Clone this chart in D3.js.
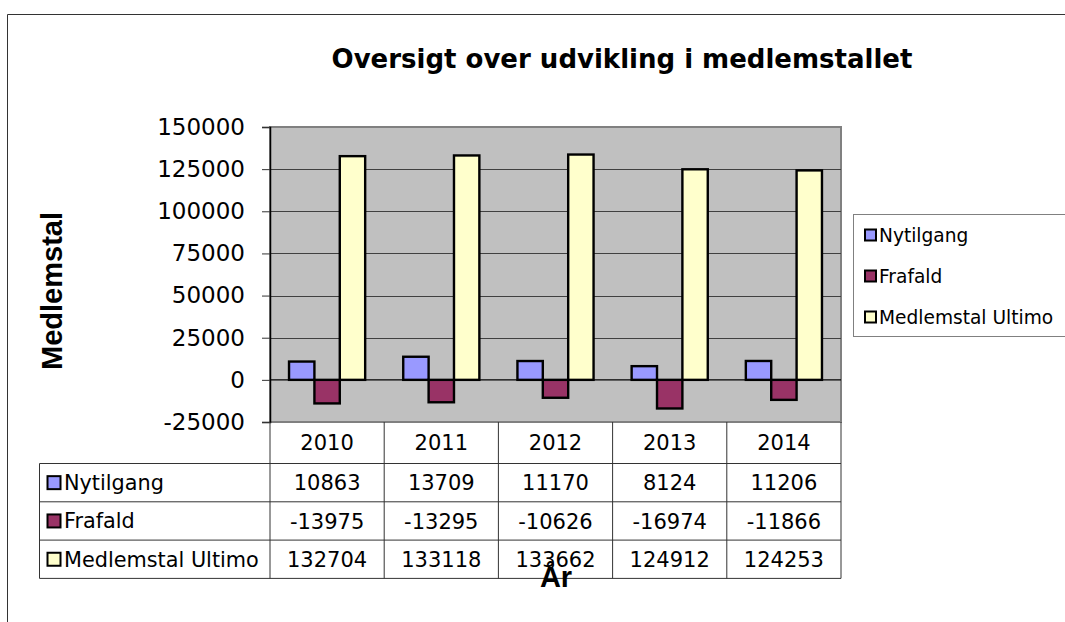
<!DOCTYPE html>
<html>
<head>
<meta charset="utf-8">
<script src="https://cdn.jsdelivr.net/npm/d3@7"></script>
<style>
  html, body { margin: 0; padding: 0; background: #fff; }
  svg { display: block; }
</style>
</head>
<body>
<svg id="chart" width="1065" height="622"></svg>
<script>
const years = ["2010", "2011", "2012", "2013", "2014"];
const seriesNames = ["Nytilgang", "Frafald", "Medlemstal Ultimo"];
const nytilgang = [10863, 13709, 11170, 8124, 11206];
const frafald = [-13975, -13295, -10626, -16974, -11866];
const medlemstal = [132704, 133118, 133662, 124912, 124253];
const yTicks = [-25000, 0, 25000, 50000, 75000, 100000, 125000, 150000];
const seriesColors = ["#9999FF", "#993366", "#FFFFCC"];

const seriesValues = [nytilgang, frafald, medlemstal];

const svg = d3.select("#chart");
const font = "'DejaVu Sans', Verdana, sans-serif";
const boldFont = "'Liberation Sans', Arial, sans-serif";

// outer chart border (top & left)
svg.append("path")
  .attr("d", "M7.5,622 L7.5,14.5 L1065,14.5")
  .attr("fill", "none").attr("stroke", "#333").attr("stroke-width", 1);

const plot = { left: 270, right: 841, top: 127, bottom: 422 };

const x = d3.scaleBand().domain(years).range([plot.left, plot.right]).paddingInner(0).paddingOuter(0);
const xs = d3.scaleBand().domain(seriesNames).range([0, x.bandwidth()]).paddingInner(0).paddingOuter(0.75);
const y = d3.scaleLinear().domain([-25000, 150000]).range([plot.bottom, plot.top]);

// plot background
svg.append("rect")
  .attr("x", plot.left).attr("y", plot.top)
  .attr("width", plot.right - plot.left).attr("height", plot.bottom - plot.top)
  .attr("fill", "#C0C0C0").attr("stroke", "#808080").attr("stroke-width", 2);

// gridlines
svg.append("g").selectAll("line")
  .data(yTicks.filter(t => t !== -25000 && t !== 150000 && t !== 0))
  .join("line")
  .attr("x1", plot.left).attr("x2", plot.right)
  .attr("y1", d => Math.round(y(d)) + 0.5).attr("y2", d => Math.round(y(d)) + 0.5)
  .attr("stroke", "#404040").attr("stroke-width", 1);

// y axis
const yAxis = d3.axisLeft(y).tickValues(yTicks).tickSize(8).tickPadding(17).tickFormat(d => String(d));
const yg = svg.append("g").attr("transform", `translate(${plot.left},0)`).call(yAxis);
yg.select(".domain").attr("stroke", "#000").attr("stroke-width", 1.5);
yg.selectAll(".tick line").attr("stroke", "#333");
yg.selectAll(".tick text").attr("font-family", font).attr("font-size", 23).attr("fill", "#000");

// bars
const barData = [];
years.forEach((yr, i) => {
  seriesNames.forEach((s, j) => {
    barData.push({ year: yr, series: s, value: seriesValues[j][i], color: seriesColors[j] });
  });
});
svg.append("g").selectAll("rect")
  .data(barData)
  .join("rect")
  .attr("x", d => x(d.year) + xs(d.series))
  .attr("width", xs.bandwidth())
  .attr("y", d => y(Math.max(0, d.value)))
  .attr("height", d => Math.abs(y(d.value) - y(0)))
  .attr("fill", d => d.color)
  .attr("stroke", "#000").attr("stroke-width", 2.4);

// zero line
svg.append("line")
  .attr("x1", plot.left).attr("x2", plot.right)
  .attr("y1", y(0)).attr("y2", y(0))
  .attr("stroke", "#000").attr("stroke-width", 1.2);

// data table
const rowH = 38.3;
const headerBottom = plot.bottom + 41.5;
const tableLeft = 39.5;
const rowsY = seriesNames.map((s, i) => headerBottom + i * rowH);
const tableBottom = headerBottom + seriesNames.length * rowH;
const tg = svg.append("g");
const lineColor = "#333";

[headerBottom, ...rowsY.map(r => r + rowH)].forEach(yy => {
  tg.append("line").attr("x1", tableLeft).attr("x2", plot.right)
    .attr("y1", yy).attr("y2", yy).attr("stroke", lineColor).attr("stroke-width", 1);
});
tg.append("line").attr("x1", tableLeft).attr("x2", tableLeft)
  .attr("y1", headerBottom).attr("y2", tableBottom).attr("stroke", lineColor);
years.forEach(yr => {
  tg.append("line").attr("x1", x(yr)).attr("x2", x(yr))
    .attr("y1", plot.bottom).attr("y2", tableBottom).attr("stroke", lineColor);
});
tg.append("line").attr("x1", plot.right).attr("x2", plot.right)
  .attr("y1", plot.bottom).attr("y2", tableBottom).attr("stroke", lineColor);

tg.selectAll("text.year").data(years).join("text")
  .attr("class", "year")
  .attr("x", d => x(d) + x.bandwidth() / 2)
  .attr("y", (plot.bottom + headerBottom) / 2)
  .attr("dy", "0.36em")
  .attr("text-anchor", "middle")
  .attr("font-family", font).attr("font-size", 21).attr("fill", "#000")
  .text(d => d);

seriesNames.forEach((s, j) => {
  const cy = rowsY[j] + rowH / 2;
  tg.append("rect").attr("x", 47.5).attr("y", cy - 6.5).attr("width", 13).attr("height", 13)
    .attr("fill", seriesColors[j]).attr("stroke", "#000").attr("stroke-width", 2);
  tg.append("text").attr("x", 64).attr("y", cy).attr("dy", "0.36em")
    .attr("font-family", font).attr("font-size", 20.8).attr("fill", "#000").text(s);
  years.forEach((yr, i) => {
    tg.append("text")
      .attr("x", x(yr) + x.bandwidth() / 2).attr("y", cy).attr("dy", "0.36em")
      .attr("text-anchor", "middle")
      .attr("font-family", font).attr("font-size", 21).attr("fill", "#000")
      .text(seriesValues[j][i]);
  });
});

// title
svg.append("text")
  .attr("x", 622).attr("y", 68)
  .attr("text-anchor", "middle")
  .attr("font-family", font).attr("font-weight", "bold").attr("font-size", 26)
  .attr("fill", "#000")
  .text("Oversigt over udvikling i medlemstallet");

// y axis title
svg.append("text")
  .attr("transform", `translate(62,291) rotate(-90)`)
  .attr("text-anchor", "middle")
  .attr("font-family", boldFont).attr("font-weight", "bold").attr("font-size", 29)
  .attr("fill", "#000")
  .text("Medlemstal");

// x axis title (overlaps the table in the reference)
svg.append("text")
  .attr("x", 556).attr("y", 587)
  .attr("text-anchor", "middle")
  .attr("font-family", boldFont).attr("font-weight", "bold").attr("font-size", 29)
  .attr("fill", "#000")
  .text("År");

// legend
const lg = svg.append("g");
lg.append("rect").attr("x", 853.5).attr("y", 214.5).attr("width", 230).attr("height", 122)
  .attr("fill", "#fff").attr("stroke", "#808080").attr("stroke-width", 1);
const legendY = [235, 276, 317];
seriesNames.forEach((s, j) => {
  lg.append("rect").attr("x", 865).attr("y", legendY[j] - 5.5).attr("width", 11).attr("height", 11)
    .attr("fill", seriesColors[j]).attr("stroke", "#000").attr("stroke-width", 2);
  lg.append("text").attr("x", 879).attr("y", legendY[j]).attr("dy", "0.36em")
    .attr("font-family", font).attr("font-size", 18.6).attr("fill", "#000").text(s);
});
</script>
</body>
</html>
